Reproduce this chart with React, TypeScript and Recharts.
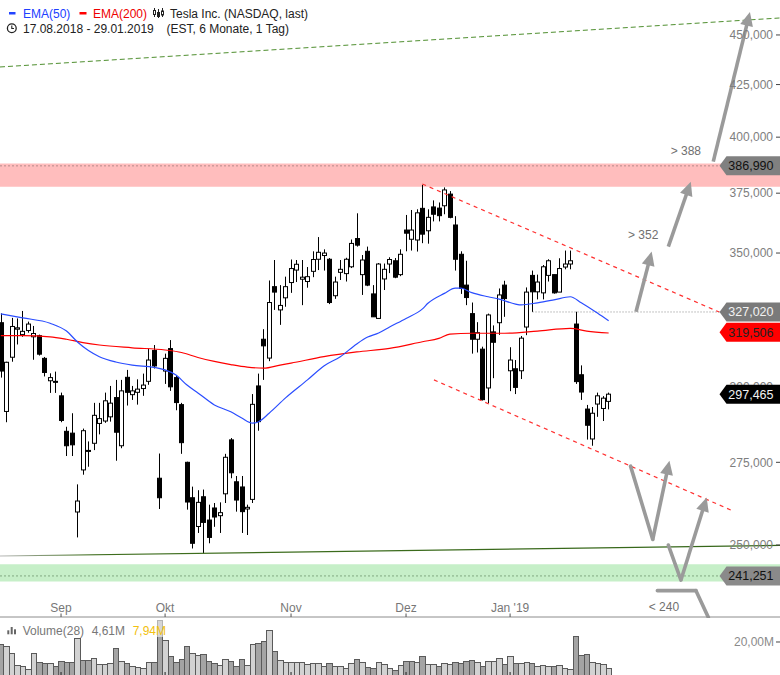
import React from "react";
import {
  ComposedChart,
  Bar,
  Line,
  XAxis,
  YAxis,
  ReferenceArea,
  ReferenceLine,
  ReferenceDot,
} from "recharts";

const FONT = "'Liberation Sans', Arial, Helvetica, sans-serif";

// daily candles, 17.08.2018 - 29.01.2019 (USD)
const open = [
  323.0, 291.6, 310.4, 320.6, 318.6, 320.1, 317.8, 318.2, 310.0, 302.1,
  301.9, 296.9, 285.0, 284.4, 259.7, 272.6, 278.8, 281.1, 287.6, 288.4,
  289.8, 296.3, 280.3, 303.3, 297.3, 298.1, 299.4, 301.9, 312.8, 270.0,
  305.5, 313.5, 303.2, 293.9, 275.0, 264.0, 255.4, 264.3, 257.3, 260.9,
  258.6, 265.2, 282.2, 268.9, 267.3, 260.6, 263.5, 300.3, 316.9, 310.1,
  336.7, 327.8, 332.4, 338.3, 343.2, 339.6, 338.7, 342.7, 347.5, 349.0,
  347.5, 333.2, 342.3, 341.8, 344.5, 355.9, 341.4, 350.7, 333.9, 324.6,
  339.7, 345.6, 346.9, 341.4, 359.4, 355.6, 355.3, 368.5, 359.1, 369.1,
  368.6, 369.6, 374.6, 361.5, 349.5, 337.3, 326.4, 316.9, 313.3, 299.6,
  319.6, 323.0, 337.3, 305.6, 306.3, 305.6, 321.4, 341.1, 334.7, 334.3,
  341.1, 341.4, 334.6, 344.4, 345.6, 322.5, 304.2, 292.4, 282.5, 294.1,
  292.6, 295.0,
];
const high = [
  326.5, 308.8, 324.8, 324.6, 327.4, 323.4, 321.8, 318.6, 310.5, 304.7,
  305.3, 298.0, 286.5, 291.0, 268.1, 285.9, 281.7, 294.5, 294.5, 298.0,
  300.3, 302.4, 302.4, 305.9, 300.3, 302.6, 304.6, 313.5, 314.8, 277.8,
  311.7, 316.6, 304.0, 294.5, 275.2, 267.4, 266.3, 266.5, 261.9, 262.4,
  262.6, 277.7, 282.8, 270.7, 270.7, 261.9, 297.5, 304.6, 320.6, 339.1,
  347.2, 337.3, 340.6, 347.4, 347.2, 347.2, 344.4, 350.7, 356.5, 351.5,
  348.0, 340.6, 347.2, 348.1, 355.5, 366.4, 349.2, 352.6, 337.3, 346.0,
  345.8, 348.3, 348.0, 351.5, 365.7, 367.8, 368.1, 378.6, 368.1, 371.9,
  371.0, 377.5, 375.9, 365.2, 350.7, 346.9, 330.6, 323.2, 314.2, 326.4,
  322.0, 336.0, 339.0, 314.0, 309.4, 318.1, 336.4, 343.0, 341.4, 345.2,
  347.5, 341.4, 347.9, 351.0, 351.0, 327.1, 307.5, 293.8, 293.1, 298.0,
  296.8, 298.0,
];
const low = [
  303.2, 288.0, 308.8, 315.0, 317.8, 319.3, 309.5, 311.0, 303.6, 297.9,
  297.9, 288.0, 277.0, 277.0, 252.2, 271.1, 273.6, 278.9, 284.0, 287.8,
  288.2, 275.5, 279.5, 293.6, 295.5, 293.9, 296.9, 300.7, 306.4, 260.6,
  301.0, 298.6, 292.0, 277.7, 260.4, 249.0, 253.5, 247.6, 250.5, 255.3,
  253.5, 262.4, 270.0, 259.8, 253.5, 252.9, 262.4, 285.2, 302.4, 309.0,
  327.8, 322.2, 329.0, 334.3, 338.5, 329.6, 336.3, 340.4, 343.2, 343.0,
  330.0, 332.0, 339.3, 338.7, 344.0, 352.6, 333.5, 336.9, 325.2, 324.6,
  335.4, 342.0, 340.0, 340.8, 350.7, 351.0, 350.6, 354.0, 353.8, 363.0,
  363.0, 366.0, 364.3, 343.0, 333.9, 329.6, 311.7, 312.1, 295.3, 294.4,
  303.0, 318.5, 325.2, 298.5, 297.5, 302.7, 318.4, 327.0, 331.8, 331.8,
  338.7, 334.0, 334.6, 343.5, 343.5, 301.0, 295.5, 282.3, 280.3, 289.8,
  288.4, 292.3,
];
const close = [
  305.5, 308.6, 321.6, 321.1, 319.8, 322.5, 319.0, 311.5, 305.0, 303.2,
  301.7, 288.6, 280.3, 280.6, 263.0, 285.2, 278.6, 290.3, 289.2, 295.2,
  294.4, 284.7, 298.6, 298.1, 298.6, 299.2, 300.6, 309.4, 307.3, 264.0,
  310.0, 300.0, 294.6, 281.3, 262.7, 250.5, 262.6, 256.6, 252.2, 258.2,
  259.5, 276.6, 271.7, 263.3, 259.8, 261.1, 294.0, 288.2, 314.5, 330.6,
  334.6, 329.5, 336.7, 343.8, 345.5, 340.4, 340.6, 347.4, 350.3, 350.0,
  330.6, 338.5, 343.5, 347.5, 353.9, 353.2, 347.2, 337.3, 325.2, 345.6,
  343.5, 347.4, 340.4, 349.5, 358.1, 359.4, 366.6, 357.7, 364.7, 366.0,
  365.4, 376.4, 364.7, 347.5, 336.0, 332.5, 316.9, 319.3, 295.6, 325.9,
  315.8, 333.5, 332.1, 309.4, 299.8, 317.3, 334.6, 334.7, 338.5, 344.5,
  346.9, 334.3, 343.8, 345.6, 346.9, 301.8, 298.2, 287.0, 291.0, 296.9,
  296.1, 297.465,
];

// volume in millions, and whether the bar is drawn light (1) or dark (0)
const volume = [
  18.6, 17.4, 13.3, 5.9, 5.3, 3.8, 13.3, 7.9, 7.3, 7.3,
  5.3, 8.5, 7.9, 7.9, 22.2, 8.9, 8.9, 10.1, 6.5, 6.5,
  7.3, 16.2, 8.5, 7.3, 5.3, 4.8, 4.4, 7.9, 7.9, 33.1,
  21.4, 11.3, 7.9, 9.5, 17.4, 13.3, 11.9, 12.5, 8.5, 7.3,
  5.9, 9.5, 8.5, 5.3, 9.5, 5.9, 18.6, 19.4, 20.6, 27.1,
  14.5, 8.9, 7.9, 7.9, 7.9, 7.9, 6.5, 7.3, 7.3, 5.3,
  7.3, 5.3, 5.3, 4.4, 7.3, 9.5, 7.9, 4.8, 4.0, 7.9,
  6.5, 4.2, 2.8, 5.9, 8.5, 8.5, 7.9, 11.3, 6.5, 6.5,
  5.3, 7.3, 6.5, 7.9, 7.3, 8.5, 9.1, 7.9, 5.3, 8.5,
  8.5, 10.1, 6.5, 11.3, 7.3, 7.3, 7.9, 7.3, 5.3, 5.9,
  5.3, 5.3, 5.9, 4.4, 3.4, 23.4, 11.9, 12.5, 7.9, 7.3,
  6.5, 4.4,
];
const volumeLight = [
  0, 1, 1, 1, 1, 1, 1, 0, 0, 1,
  0, 0, 0, 0, 1, 0, 0, 1, 1, 1,
  1, 0, 1, 0, 1, 1, 1, 1, 0, 0,
  1, 0, 0, 0, 0, 1, 1, 0, 0, 0,
  1, 1, 0, 0, 0, 1, 1, 0, 0, 1,
  0, 1, 1, 1, 1, 1, 1, 1, 1, 1,
  0, 1, 1, 1, 1, 0, 1, 0, 0, 1,
  1, 1, 0, 1, 0, 0, 1, 0, 1, 1,
  0, 1, 1, 0, 0, 0, 0, 1, 0, 1,
  1, 1, 0, 1, 0, 1, 1, 0, 1, 1,
  1, 0, 1, 1, 1, 0, 0, 0, 1, 1,
  1, 1,
];

// moving averages at these day indices
const ema50At = [0, 4, 9, 12, 14, 16, 18, 21, 24, 28, 30, 32, 34, 36, 39, 42, 44, 46, 47, 49, 52, 56, 59, 62, 65, 67, 69, 71, 74, 77, 78, 81, 83, 84, 86, 89, 91, 94, 95, 98, 101, 104, 106, 109, 111];
const ema50 = [326.3, 324.8, 322.8, 319.9, 315.9, 312.8, 310.6, 308.7, 307.6, 306.8, 305.9, 304.1, 300.6, 297.9, 293.8, 291.5, 289.4, 287.7, 288.1, 291.0, 296.2, 302.4, 307.3, 310.6, 315.2, 317.7, 319.2, 321.4, 324.6, 328.2, 330.3, 334.1, 336.1, 336.1, 334.4, 332.8, 331.9, 330.0, 329.7, 330.5, 331.6, 332.8, 330.5, 326.5, 323.7];
const ema200At = [0, 4, 9, 12, 15, 18, 24, 30, 33, 36, 39, 42, 45, 48, 51, 53, 59, 65, 71, 77, 80, 82, 86, 92, 98, 104, 107, 111];
const ema200 = [318.2, 318.2, 317.8, 316.9, 315.7, 314.8, 313.8, 313.0, 312.1, 310.3, 308.9, 307.8, 306.9, 306.5, 307.6, 308.3, 310.6, 312.3, 313.6, 316.0, 317.2, 318.8, 319.1, 319.1, 319.9, 320.9, 319.9, 319.2];

const monthTicks = [11, 30, 53, 74, 93];
const monthLabels = ["Sep", "Okt", "Nov", "Dez", "Jan '19"];
const priceTicks = [250, 275, 300, 350, 375, 400, 425, 450];

const resistanceZone = [377.8, 388.1];
const supportZone = [239.7, 244.5];
const tagValues = [386.99, 327.02, 319.506, 297.465, 241.251];
const tagColors = [
  { bg: "#808080", fg: "#111" },
  { bg: "#7a7a7a", fg: "#f2f2f2" },
  { bg: "#ff0000", fg: "#222" },
  { bg: "#000000", fg: "#f2f2f2" },
  { bg: "#8a8a8a", fg: "#111" },
];

// drawn annotations, in (day index, price)
const upperChannel = [[76.97, 379.0], [131.2, 327.0]];
const lowerChannel = [[79.1, 302.4], [133.3, 260.3]];
const longTrend = [[-0.146, 433.7], [142.29, 458.9]];
const baseTrend = [[-0.146, 246.85], [142.29, 249.9]];
const breakoutLevel = [[97.1, 327.02], [131.4, 327.02]];
const arrowsWithHead = [
  [[116.0, 327.1], [118.86, 350.6]],
  [[121.9, 352.6], [126.0, 380.0]],
  [[130.1, 388.9], [136.8, 462.1]],
  [[119.05, 251.6], [122.1, 275.5]],
  [[124.2, 240.1], [128.9, 264.1]],
];
const arrowsPlain = [
  [[115.0, 273.8], [119.05, 251.6]],
  [[121.9, 250.0], [124.2, 240.1]],
  [[119.9, 237.2], [126.95, 237.2]],
  [[126.95, 237.2], [129.2, 230.0]],
];
const targetText = ["> 388", "> 352", "< 240"];
const targetAt = [[125.1, 393.9], [117.3, 357.3], [121.1, 232.9]];

const X_DOMAIN: [number, number] = [-0.146, 142.29];
const Y_DOMAIN: [number, number] = [230.1, 468.5];
const VOL_DOMAIN: [number, number] = [0, 35.15];

const rows: any[] = close.map((c, i) => ({
  i,
  o: open[i],
  h: high[i],
  l: low[i],
  c,
  hl: [low[i], high[i]],
  v: volume[i],
  light: volumeLight[i],
  e50: null,
  e200: null,
}));
ema50At.forEach((k, j) => (rows[k].e50 = ema50[j]));
ema200At.forEach((k, j) => (rows[k].e200 = ema200[j]));

const fmtPrice = (v: number) => v.toFixed(3).replace(".", ",");
const ARROW = "#9a9a9a";

function Candle(props: any) {
  const { x, y, width, height, payload } = props;
  if (!payload || height == null || isNaN(y)) return null;
  const { o, h, l, c } = payload;
  const cx = Math.round(x + width / 2) + 0.5;
  const span = Math.log(h) - Math.log(l);
  const py = (v: number) =>
    span > 0 ? y + (height * (Math.log(h) - Math.log(v))) / span : y;
  const top = py(Math.max(o, c));
  const bot = py(Math.min(o, c));
  const up = c >= o;
  return (
    <g>
      <line x1={cx} x2={cx} y1={y} y2={y + height} stroke="#000" strokeWidth={1} />
      <rect
        x={cx - 2}
        y={top}
        width={4}
        height={Math.max(bot - top, 1)}
        fill={up ? "#fff" : "#000"}
        stroke="#000"
        strokeWidth={1}
      />
    </g>
  );
}

function VolBar(props: any) {
  const { x, y, width, height, payload } = props;
  if (!payload || isNaN(y)) return null;
  const cx = x + width / 2;
  const x0 = Math.round(cx - 2.74) + 0.5;
  const x1 = Math.round(cx + 2.74) + 0.5;
  return (
    <rect
      x={x0}
      y={Math.round(y) + 0.5}
      width={x1 - x0}
      height={height + 2}
      fill={payload.light ? "#d2d2d2" : "#a4a4a4"}
      stroke="#5a5a5a"
      strokeWidth={1}
    />
  );
}

function MonthTick(props: any) {
  const { x, y, payload } = props;
  const k = monthTicks.indexOf(payload.value);
  return (
    <g>
      <line x1={x} x2={x} y1={y - 3.5} y2={y} stroke="#555" />
      <text x={x} y={y - 5.5} textAnchor="middle" fill="#777" fontSize={12} fontFamily={FONT}>
        {monthLabels[k]}
      </text>
    </g>
  );
}

function VolTick(props: any) {
  const { x, y } = props;
  return <line x1={x} x2={x} y1={y - 3} y2={y} stroke="#222" />;
}

function arrowShape(withHead: boolean) {
  return (p: any) => {
    const { x1, y1, x2, y2 } = p;
    const dx = x2 - x1;
    const dy = y2 - y1;
    const len = Math.hypot(dx, dy) || 1;
    const ux = dx / len;
    const uy = dy / len;
    const hl = 14;
    const hw = 6.5;
    const bx = x2 - ux * hl;
    const by = y2 - uy * hl;
    return (
      <g>
        <line
          x1={x1}
          y1={y1}
          x2={withHead ? bx + ux : x2}
          y2={withHead ? by + uy : y2}
          stroke={ARROW}
          strokeWidth={3.6}
          strokeLinecap={withHead ? "butt" : "round"}
        />
        {withHead && (
          <polygon
            points={`${x2},${y2} ${bx - uy * hw},${by + ux * hw} ${bx + uy * hw},${by - ux * hw}`}
            fill={ARROW}
          />
        )}
      </g>
    );
  };
}

function tagShape(k: number) {
  return (p: any) => {
    const { cx, cy } = p;
    const { bg, fg } = tagColors[k];
    const a = cx - 60.5;
    const b = cx - 53.5;
    return (
      <g>
        <polygon
          points={`${a},${cy} ${b},${cy - 9.5} ${cx},${cy - 9.5} ${cx},${cy + 9.5} ${b},${cy + 9.5}`}
          fill={bg}
        />
        <text x={cx - 6.5} y={cy} dy="0.36em" textAnchor="end" fill={fg} fontSize={12.5} fontFamily={FONT}>
          {fmtPrice(tagValues[k])}
        </text>
      </g>
    );
  };
}

function textShape(k: number) {
  return (p: any) => (
    <text x={p.cx} y={p.cy} dy="0.36em" textAnchor="middle" fill="#707070" fontSize={12} fontFamily={FONT}>
      {targetText[k]}
    </text>
  );
}

const seg = (s: number[][]) => [
  { x: s[0][0], y: s[0][1] },
  { x: s[1][0], y: s[1][1] },
];

const layer = { position: "absolute" as const, left: 0, top: 0 };

export default function App() {
  return (
    <div
      style={{
        position: "fixed",
        left: 0,
        top: 0,
        width: 780,
        height: 675,
        background: "#fff",
        overflow: "hidden",
        fontFamily: FONT,
      }}
    >
      {/* price pane */}
      <div style={layer}>
        <ComposedChart width={780} height={618} data={rows} margin={{ top: 0, right: 0, bottom: 0, left: 0 }}>
          <defs>
            <linearGradient id="baseFade" x1="0" y1="0" x2="1" y2="0">
              <stop offset="0" stopColor="#b8b8b8" />
              <stop offset="0.12" stopColor="#3f6e1e" />
              <stop offset="1" stopColor="#356619" />
            </linearGradient>
          </defs>
          <XAxis
            type="number"
            dataKey="i"
            domain={X_DOMAIN}
            allowDataOverflow
            height={1}
            ticks={monthTicks}
            interval={0}
            tickSize={0}
            tickMargin={0}
            tickLine={false}
            axisLine={{ stroke: "#8c8c8c" }}
            tick={(p: any) => <MonthTick {...p} />}
          />
          <YAxis scale="log" domain={Y_DOMAIN} allowDataOverflow hide />
          <ReferenceArea y1={resistanceZone[0]} y2={resistanceZone[1]} fill="#ffbdbd" fillOpacity={1} stroke="none" />
          <ReferenceArea y1={supportZone[0]} y2={supportZone[1]} fill="#c6efc8" fillOpacity={1} stroke="none" />
          <ReferenceLine y={tagValues[0]} stroke="#b48a8a" strokeDasharray="2 2" />
          <ReferenceLine y={tagValues[4]} stroke="#80a880" strokeDasharray="2 2" />
          <ReferenceLine segment={seg(breakoutLevel)} stroke="#8a8a8a" strokeDasharray="1 2" ifOverflow="visible" />
          <ReferenceLine segment={seg(longTrend)} stroke="#4f8f2f" strokeDasharray="5 3" ifOverflow="visible" />
          <ReferenceLine segment={seg(baseTrend)} stroke="url(#baseFade)" strokeWidth={1.2} ifOverflow="visible" />
          <Bar dataKey="hl" barSize={5} shape={<Candle />} isAnimationActive={false} />
          <Line
            dataKey="e200"
            type="monotone"
            stroke="#ff0000"
            strokeWidth={1.2}
            dot={false}
            activeDot={false}
            connectNulls
            isAnimationActive={false}
          />
          <Line
            dataKey="e50"
            type="monotone"
            stroke="#2a4dff"
            strokeWidth={1.2}
            dot={false}
            activeDot={false}
            connectNulls
            isAnimationActive={false}
          />
          <ReferenceLine segment={seg(upperChannel)} stroke="#ff3030" strokeWidth={1.2} strokeDasharray="4 4" ifOverflow="visible" />
          <ReferenceLine segment={seg(lowerChannel)} stroke="#ff3030" strokeWidth={1.2} strokeDasharray="4 4" ifOverflow="visible" />
          {arrowsPlain.map((s, k) => (
            <ReferenceLine key={"p" + k} segment={seg(s)} ifOverflow="visible" shape={arrowShape(false)} />
          ))}
          {arrowsWithHead.map((s, k) => (
            <ReferenceLine key={"a" + k} segment={seg(s)} ifOverflow="visible" shape={arrowShape(true)} />
          ))}
          {targetText.map((t, k) => (
            <ReferenceDot key={t} x={targetAt[k][0]} y={targetAt[k][1]} r={0} ifOverflow="visible" shape={textShape(k)} />
          ))}
        </ComposedChart>
      </div>

      {/* price axis labels, above the arrows */}
      <div style={layer}>
        <ComposedChart width={780} height={618} data={rows} margin={{ top: 0, right: 0, bottom: 1, left: 0 }}>
          <XAxis type="number" dataKey="i" domain={X_DOMAIN} allowDataOverflow hide />
          <YAxis
            orientation="right"
            mirror
            width={1}
            scale="log"
            domain={Y_DOMAIN}
            allowDataOverflow
            ticks={priceTicks}
            interval={0}
            tickFormatter={fmtPrice}
            axisLine={false}
            tickSize={4}
            tickMargin={3}
            tickLine={{ stroke: "#444" }}
            tick={{ fill: "#7e7e7e", fontSize: 12, fontFamily: FONT }}
          />
        </ComposedChart>
      </div>

      {/* last-value tags, on top of everything */}
      <div style={layer}>
        <ComposedChart width={780} height={618} data={rows} margin={{ top: 0, right: 0, bottom: 1, left: 0 }}>
          <XAxis type="number" dataKey="i" domain={X_DOMAIN} allowDataOverflow hide />
          <YAxis scale="log" domain={Y_DOMAIN} allowDataOverflow hide />
          {tagValues.map((v, k) => (
            <ReferenceDot key={"t" + k} x={X_DOMAIN[1]} y={v} r={0} ifOverflow="visible" shape={tagShape(k)} />
          ))}
        </ComposedChart>
      </div>

      {/* volume pane */}
      <div style={{ position: "absolute", left: 0, top: 617 }}>
        <ComposedChart width={780} height={59} data={rows} margin={{ top: 0, right: 0, bottom: 0, left: 0 }}>
          <XAxis
            type="number"
            dataKey="i"
            domain={X_DOMAIN}
            allowDataOverflow
            height={1}
            ticks={monthTicks}
            interval={0}
            tickSize={0}
            tickMargin={0}
            tickLine={false}
            axisLine={false}
            tick={(p: any) => <VolTick {...p} />}
          />
          <YAxis
            orientation="right"
            mirror
            width={1}
            domain={VOL_DOMAIN}
            allowDataOverflow
            ticks={[20]}
            interval={0}
            tickFormatter={() => "20,00M"}
            axisLine={false}
            tickSize={4}
            tickMargin={2}
            tickLine={{ stroke: "#444" }}
            tick={{ fill: "#8a8a8a", fontSize: 12, fontFamily: FONT }}
          />
          <Bar dataKey="v" barSize={5} shape={<VolBar />} isAnimationActive={false} />
        </ComposedChart>
      </div>

      <svg
        width={780}
        height={675}
        style={{ position: "absolute", left: 0, top: 0, pointerEvents: "none" }}
        fontFamily={FONT}
        fontSize={12}
      >
        <rect x={9} y={12} width={6.5} height={2.5} fill="#2244ff" />
        <text x={23} y={17.5} fill="#2040ff">EMA(50)</text>
        <rect x={79.5} y={12} width={7} height={2.5} fill="#ff0000" />
        <text x={93} y={17.5} fill="#ee0000">EMA(200)</text>
        <g stroke="#222" strokeWidth={1}>
          <line x1={154.5} y1={8} x2={154.5} y2={17} />
          <rect x={153.5} y={10.5} width={2} height={4} fill="#fff" />
          <line x1={158.5} y1={9} x2={158.5} y2={18} />
          <rect x={157.5} y={12.5} width={2} height={4} fill="#222" />
          <line x1={162.5} y1={8} x2={162.5} y2={17} />
          <rect x={161.5} y={11} width={2} height={4} fill="#fff" />
        </g>
        <text x={170} y={17.5} fill="#222">Tesla Inc. (NASDAQ, last)</text>
        <circle cx={11.8} cy={28.3} r={4.4} fill="none" stroke="#222" strokeWidth={1.3} />
        <path d="M11.8 25.6 V28.5 H14" fill="none" stroke="#222" strokeWidth={1.1} />
        <text x={23} y={33} fill="#222">17.08.2018 - 29.01.2019</text>
        <text x={166.5} y={33} fill="#222">(EST, 6 Monate, 1 Tag)</text>

        <rect x={3} y={620} width={166} height={17} fill="#fff" fillOpacity={0.55} />
        <rect x={7.3} y={630.3} width={2} height={4} fill="#666" />
        <rect x={10.7} y={627} width={2} height={7.3} fill="#666" />
        <rect x={14} y={629.3} width={2} height={5} fill="#666" />
        <text x={22.7} y={634.7} fill="#777">Volume(28)</text>
        <text x={91.7} y={634.7} fill="#777">4,61M</text>
        <text x={132.7} y={634.7} fill="#f2c10f">7,94M</text>
      </svg>
    </div>
  );
}
